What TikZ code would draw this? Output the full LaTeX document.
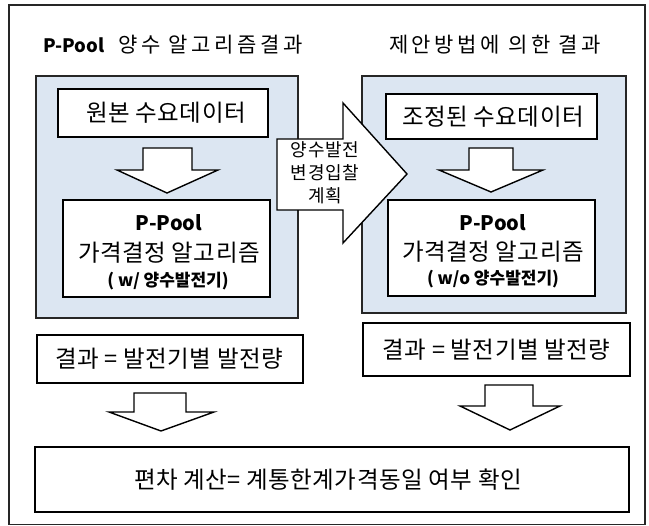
\documentclass[tikz,border=0pt]{standalone}
\usepackage{fontspec}
\setmainfont{Noto Sans CJK KR}
\definecolor{paleblue}{HTML}{DCE6F2}
\newcommand{\lsp}[1]{\addfontfeature{LetterSpace=#1}}
\begin{document}
\begin{tikzpicture}[x=1pt,y=-1pt,
  frame/.style={draw=black!85,line width=1.4pt},
  panel/.style={draw=black!85,line width=1.4pt,fill=paleblue},
  wbox/.style={draw=black,line width=1.4pt,fill=white},
  blockarrow/.style={draw=black,line width=1.4pt,fill=white,line join=miter},
  lbl/.style={inner sep=0pt,font=\fontsize{23.5}{26}\selectfont\lsp{2}},
  ttl/.style={inner sep=0pt,font=\fontsize{21}{24}\selectfont}]
\useasboundingbox (0,0) rectangle (649,526);
% outer frame
\draw[frame] (9,5) rectangle (645,524.5);
% titles
\node[ttl,anchor=west] (tl) at (43,45) {{\bfseries\fontsize{18.5}{22}\selectfont P-Pool}\hspace{14pt}{\lsp{17}양수 알고리즘결과}};
\node[ttl] (tr) at (495,45) {\lsp{17}제안방법에 의한 결과};
% panels
\draw[panel] (36,76) rectangle (298,318);
\draw[panel] (362,76) rectangle (626,313);
% top boxes
\draw[wbox] (58,89) rectangle (268,137);
\node[lbl] (a1) at (166,113) {원본 수요데이터};
\draw[wbox] (386,94) rectangle (597,139);
\node[lbl] (b1) at (493,116.5) {조정된 수요데이터};
% down arrows in panels
\draw[blockarrow] (143,148) -- (192,148) -- (192,170) -- (218,170) -- (167,193) -- (117,170) -- (143,170) -- cycle;
\draw[blockarrow] (469,148) -- (513,148) -- (513,170) -- (543,170) -- (491,192) -- (439,170) -- (469,170) -- cycle;
% algorithm boxes
\draw[wbox] (63,200) rectangle (270,297);
\node[inner sep=0pt,font=\bfseries\fontsize{20}{22}\selectfont] (a2) at (169,223) {P-Pool};
\node[lbl] (a3) at (169,253) {가격결정 알고리즘};
\node[inner sep=0pt,font=\bfseries\fontsize{17}{19}\selectfont] (a4) at (168,281) {( w/ 양수발전기)};
\draw[wbox] (388,200) rectangle (595,296);
\node[inner sep=0pt,font=\bfseries\fontsize{20}{22}\selectfont] (b2) at (493,223) {P-Pool};
\node[lbl] (b3) at (493,252) {가격결정 알고리즘};
\node[inner sep=0pt,font=\bfseries\fontsize{17}{19}\selectfont] (b4) at (493,279) {( w/o 양수발전기)};
% callout arrow
\draw[blockarrow] (277,139) -- (343,139) -- (343,103) -- (407,174) -- (343,243) -- (343,210) -- (277,210) -- cycle;
\node[inner sep=0pt,align=center,font=\fontsize{18}{23}\selectfont\lsp{4}] (c) at (325,173) {양수발전\\변경입찰\\계획};
% result boxes
\draw[wbox] (37,335) rectangle (303,383);
\node[lbl] (a5) at (169,359) {결과 = 발전기별 발전량};
\draw[wbox] (363,323) rectangle (630,376);
\node[lbl] (b5) at (496.5,349.5) {결과 = 발전기별 발전량};
% lower arrows
\draw[blockarrow] (134,393) -- (186,393) -- (186,412) -- (214,412) -- (161,431) -- (109,412) -- (134,412) -- cycle;
\draw[blockarrow] (485,385) -- (533,385) -- (533,406) -- (560,406) -- (510,430) -- (460,406) -- (485,406) -- cycle;
% bottom box
\draw[wbox] (35,447) rectangle (629,512);
\node[lbl] (d) at (328,479.5) {편차 계산=  계통한계가격동일 여부 확인};
\end{tikzpicture}
\end{document}
